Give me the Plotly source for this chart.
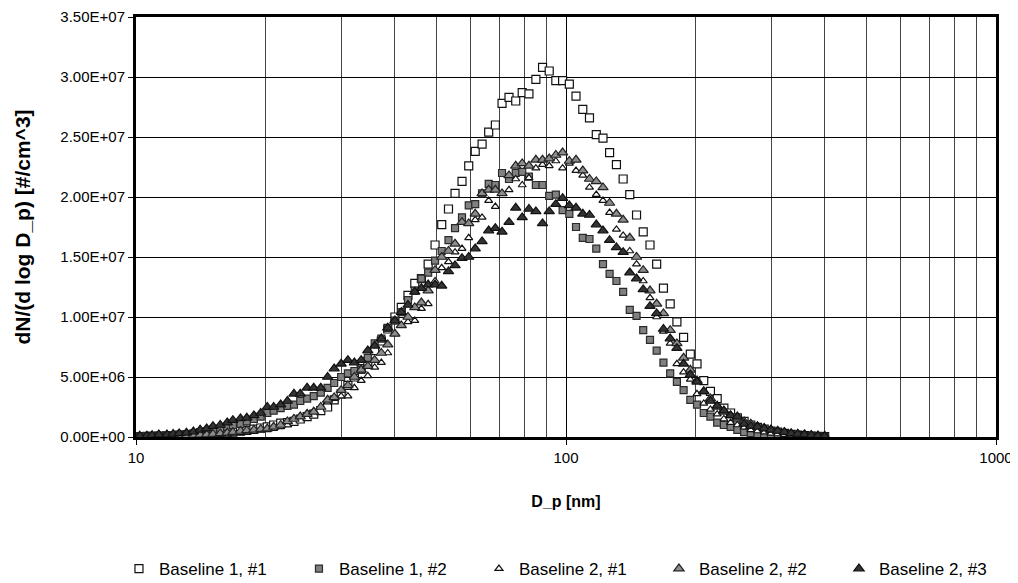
import plotly.graph_objects as go

# Particle diameters (nm)
diam = [10.2, 10.6, 10.9, 11.3, 11.8, 12.2, 12.6, 13.1, 13.6, 14.1,
        14.6, 15.1, 15.7, 16.3, 16.8, 17.5, 18.1, 18.8, 19.5, 20.2,
        20.9, 21.7, 22.5, 23.3, 24.1, 25.0, 25.9, 26.9, 27.9, 28.9,
        30.0, 31.1, 32.2, 33.4, 34.6, 35.9, 37.2, 38.5, 40.0, 41.4,
        42.9, 44.5, 46.1, 47.8, 49.6, 51.4, 53.3, 55.2, 57.3, 59.4,
        61.5, 63.8, 66.1, 68.5, 71.0, 73.7, 76.4, 79.1, 82.0, 85.1,
        88.2, 91.4, 94.7, 98.2, 101.8, 105.5, 109.4, 113.4, 117.6, 121.9,
        126.3, 131.0, 135.8, 140.7, 145.9, 151.2, 156.8, 162.5, 168.5, 174.7,
        181.1, 187.7, 194.6, 201.7, 209.1, 216.7, 224.7, 232.9, 241.4, 250.3,
        259.5, 269.0, 278.8, 289.0, 299.6, 310.6, 322.0, 333.8, 346.0, 358.7,
        371.8, 385.4, 399.5]

SCALE = 1e7  # values below are in units of 1e7 #/cm^3

baseline1_1 = [0.004, 0.005, 0.006, 0.008, 0.010, 0.011, 0.013, 0.015, 0.018, 0.020,
               0.022, 0.025, 0.030, 0.035, 0.040, 0.048, 0.055, 0.065, 0.075, 0.085,
               0.100, 0.115, 0.120, 0.130, 0.150, 0.170, 0.190, 0.220, 0.250, 0.310,
               0.360, 0.430, 0.500, 0.570, 0.630, 0.720, 0.800, 0.900, 1.000, 1.080,
               1.180, 1.280, 1.320, 1.440, 1.600, 1.770, 1.900, 2.030, 2.130, 2.260,
               2.380, 2.440, 2.540, 2.600, 2.780, 2.830, 2.800, 2.870, 2.860, 2.980,
               3.080, 3.050, 2.970, 2.970, 2.940, 2.840, 2.730, 2.660, 2.520, 2.490,
               2.370, 2.270, 2.150, 2.020, 1.850, 1.710, 1.600, 1.440, 1.240, 1.110,
               0.960, 0.830, 0.690, 0.610, 0.470, 0.380, 0.320, 0.240, 0.200, 0.160,
               0.130, 0.100, 0.080, 0.065, 0.050, 0.040, 0.030, 0.022, 0.016, 0.012,
               0.008, 0.006, 0.004]

baseline1_2 = [0.005, 0.006, 0.008, 0.010, 0.012, 0.015, 0.020, 0.025, 0.030, 0.040,
               0.050, 0.060, 0.070, 0.085, 0.100, 0.110, 0.130, 0.150, 0.170, 0.200,
               0.220, 0.240, 0.260, 0.270, 0.300, 0.320, 0.340, 0.370, 0.410, 0.450,
               0.500, 0.530, 0.550, 0.560, 0.660, 0.780, 0.820, 0.910, 0.970, 1.040,
               1.140, 1.220, 1.320, 1.370, 1.470, 1.550, 1.640, 1.740, 1.830, 1.930,
               1.940, 2.030, 2.110, 2.100, 2.200, 2.150, 2.200, 2.210, 2.170, 2.100,
               2.100, 2.010, 2.020, 1.890, 1.860, 1.750, 1.660, 1.650, 1.570, 1.440,
               1.360, 1.300, 1.210, 1.060, 1.010, 0.890, 0.810, 0.720, 0.620, 0.530,
               0.460, 0.390, 0.310, 0.270, 0.200, 0.170, 0.120, 0.100, 0.085, 0.060,
               0.040, 0.032, 0.025, 0.020, 0.016, 0.012, 0.010, 0.008, 0.006, 0.005,
               0.004, 0.003, 0.002]

baseline2_1 = [0.002, 0.003, 0.004, 0.005, 0.006, 0.007, 0.008, 0.010, 0.012, 0.014,
               0.016, 0.018, 0.020, 0.025, 0.030, 0.035, 0.040, 0.045, 0.055, 0.060,
               0.070, 0.085, 0.100, 0.155, 0.170, 0.200, 0.215, 0.250, 0.290, 0.320,
               0.340, 0.340, 0.410, 0.470, 0.510, 0.580, 0.620, 0.700, 0.860, 0.930,
               0.960, 0.970, 1.070, 1.110, 1.300, 1.410, 1.460, 1.540, 1.570, 1.660,
               1.810, 1.830, 1.970, 1.920, 2.030, 2.060, 2.150, 2.100, 2.160, 2.240,
               2.270, 2.260, 2.300, 2.240, 2.280, 2.220, 2.180, 2.080, 2.020, 1.970,
               1.870, 1.730, 1.680, 1.550, 1.440, 1.300, 1.160, 1.000, 0.880, 0.780,
               0.610, 0.540, 0.480, 0.360, 0.280, 0.230, 0.190, 0.150, 0.120, 0.100,
               0.080, 0.060, 0.050, 0.040, 0.030, 0.025, 0.020, 0.015, 0.010, 0.010,
               0.008, 0.005, 0.004]

baseline2_2 = [0.003, 0.004, 0.005, 0.006, 0.008, 0.010, 0.012, 0.014, 0.016, 0.018,
               0.020, 0.025, 0.030, 0.035, 0.040, 0.050, 0.055, 0.060, 0.065, 0.070,
               0.085, 0.100, 0.130, 0.150, 0.170, 0.190, 0.210, 0.250, 0.310, 0.330,
               0.390, 0.430, 0.500, 0.560, 0.590, 0.640, 0.700, 0.770, 0.860, 0.930,
               1.000, 1.080, 1.120, 1.220, 1.390, 1.500, 1.550, 1.610, 1.790, 1.780,
               1.860, 2.030, 2.060, 2.060, 2.030, 2.180, 2.260, 2.280, 2.260, 2.310,
               2.310, 2.320, 2.350, 2.370, 2.300, 2.310, 2.220, 2.150, 2.130, 2.080,
               1.950, 1.860, 1.810, 1.660, 1.500, 1.390, 1.220, 1.110, 1.030, 0.890,
               0.780, 0.660, 0.560, 0.470, 0.380, 0.320, 0.250, 0.210, 0.180, 0.160,
               0.130, 0.110, 0.090, 0.075, 0.060, 0.050, 0.040, 0.030, 0.025, 0.020,
               0.015, 0.010, 0.008]

baseline2_3 = [0.010, 0.010, 0.015, 0.020, 0.020, 0.025, 0.030, 0.035, 0.045, 0.060,
               0.070, 0.090, 0.100, 0.120, 0.140, 0.155, 0.160, 0.180, 0.200, 0.250,
               0.250, 0.270, 0.300, 0.360, 0.360, 0.410, 0.410, 0.410, 0.500, 0.570,
               0.610, 0.640, 0.620, 0.640, 0.720, 0.760, 0.820, 0.910, 0.970, 1.040,
               1.100, 1.210, 1.240, 1.270, 1.270, 1.260, 1.380, 1.430, 1.490, 1.500,
               1.570, 1.630, 1.720, 1.740, 1.710, 1.790, 1.910, 1.830, 1.900, 1.880,
               1.780, 1.880, 1.940, 1.990, 1.930, 1.910, 1.860, 1.850, 1.770, 1.720,
               1.640, 1.580, 1.540, 1.370, 1.320, 1.230, 1.090, 1.030, 0.900, 0.820,
               0.740, 0.610, 0.520, 0.460, 0.380, 0.300, 0.260, 0.220, 0.180, 0.170,
               0.110, 0.090, 0.085, 0.070, 0.060, 0.050, 0.040, 0.030, 0.025, 0.020,
               0.015, 0.010, 0.008]

series_names = ["Baseline 1, #1", "Baseline 1, #2", "Baseline 2, #1",
                "Baseline 2, #2", "Baseline 2, #3"]
series_values = [baseline1_1, baseline1_2, baseline2_1, baseline2_2, baseline2_3]

y_tick_vals = [0, 5e6, 1e7, 1.5e7, 2e7, 2.5e7, 3e7, 3.5e7]
y_tick_text = ["0.00E+00", "5.00E+06", "1.00E+07", "1.50E+07", "2.00E+07",
               "2.50E+07", "3.00E+07", "3.50E+07"]
x_tick_vals = [10, 100, 1000]
x_tick_text = ["10", "100", "1000"]
x_minor_vals = [20, 30, 40, 50, 60, 70, 80, 90, 200, 300, 400, 500, 600, 700, 800, 900]

styles = [
    dict(symbol="square", size=8, color="#ffffff", line=dict(color="#111111", width=1.2)),
    dict(symbol="square", size=7, color="#808080", line=dict(color="#2a2a2a", width=1.2)),
    dict(symbol="triangle-up", size=7, color="#ffffff", line=dict(color="#111111", width=1.2)),
    dict(symbol="triangle-up", size=9, color="#8c8c8c", line=dict(color="#222222", width=1.2)),
    dict(symbol="triangle-up", size=9, color="#333333", line=dict(color="#111111", width=1.2)),
]

FONT = "Liberation Sans, Arial, sans-serif"
legend_ids = ["legend", "legend2", "legend3", "legend4", "legend5"]
legend_x = [-0.0198, 0.1895, 0.3988, 0.6081, 0.8174]

fig = go.Figure()
for name, vals, st, lid in zip(series_names, series_values, styles, legend_ids):
    fig.add_trace(go.Scatter(
        x=diam, y=[v * SCALE for v in vals], mode="markers", name=name,
        marker=st, cliponaxis=True, legend=lid,
    ))

# The page body has an 8px default margin; the figure is sized to fill the window exactly.
layout_legends = {}
for lid, lx in zip(legend_ids, legend_x):
    layout_legends[lid] = dict(
        orientation="h", x=lx, xanchor="left", y=-0.3143, yanchor="middle",
        font=dict(size=17, family=FONT), itemwidth=30,
        bgcolor="rgba(0,0,0,0)",
    )

fig.update_layout(
    width=1010, height=575, autosize=False,
    margin=dict(l=128, r=22, t=9, b=146, autoexpand=False),
    paper_bgcolor="white", plot_bgcolor="white",
    font=dict(family=FONT, size=15, color="black"),
    showlegend=True,
    **layout_legends,
)
fig.update_xaxes(
    type="log", range=[1, 3], automargin=False, ticklabeloverflow="allow",
    tickmode="array", tickvals=x_tick_vals, ticktext=x_tick_text,
    ticks="outside", ticklen=5, tickcolor="black", tickwidth=1,
    showgrid=True, gridcolor="black", gridwidth=1,
    minor=dict(tickmode="array", tickvals=x_minor_vals, showgrid=True,
               gridcolor="#444444", gridwidth=1, ticks=""),
    showline=True, linecolor="black", linewidth=3, mirror=True,
    zeroline=False,
    tickfont=dict(size=15),
    title=dict(text="D_p [nm]", font=dict(size=16, weight="bold"), standoff=31),
)
fig.update_yaxes(
    range=[0, 3.5e7], automargin=False, ticklabeloverflow="allow",
    tickmode="array", tickvals=y_tick_vals, ticktext=y_tick_text,
    ticks="outside", ticklen=5, tickcolor="black", tickwidth=1,
    showgrid=True, gridcolor="black", gridwidth=1,
    showline=True, linecolor="black", linewidth=3, mirror=True,
    zeroline=False,
    tickfont=dict(size=15),
    title=dict(text="dN/(d log D_p) [#/cm^3]", font=dict(size=21, weight="bold"), standoff=24),
)

fig.write_html("out.html")
